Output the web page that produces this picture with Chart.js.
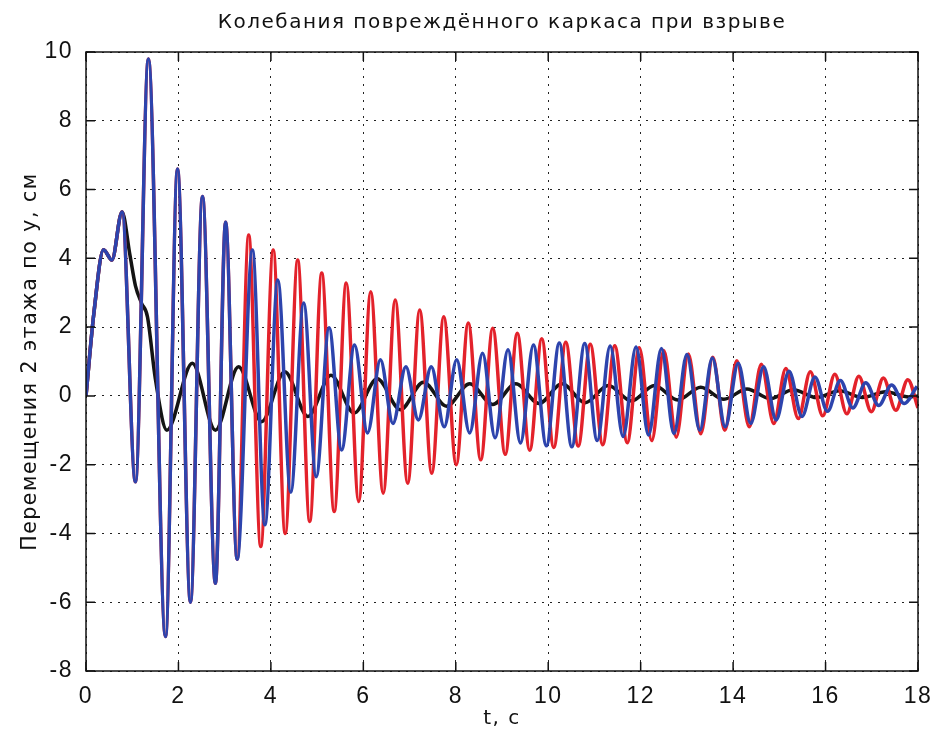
<!doctype html>
<html>
<head>
<meta charset="utf-8">
<script src="https://cdn.jsdelivr.net/npm/chart.js@4.4.0/dist/chart.umd.min.js"></script>
<style>
  html, body { margin: 0; padding: 0; background: #fff; }
</style>
</head>
<body>
<canvas id="chart" width="936" height="735"></canvas>
<script>
// начало общее для красной и синей кривых (пики/впадины, читаны с картинки)
const tStart = [0, 0.17, 0.38, 0.56, 0.78, 1.07, 1.35, 1.72, 1.98, 2.26, 2.52, 2.80, 3.02, 3.27];
const yStart = [0, 2.4, 4.25, 3.95, 5.35, -2.5, 9.8, -7.0, 6.6, -6.0, 5.8, -5.45, 5.05, -4.75];

const tRed = tStart.concat([3.52, 3.78, 4.05, 4.31, 4.58, 4.84, 5.10, 5.37, 5.63, 5.90, 6.16, 6.43, 6.69, 6.96,
  7.22, 7.48, 7.74, 8.01, 8.27, 8.54, 8.80, 9.07, 9.33, 9.60, 9.86, 10.12, 10.38, 10.65, 10.91, 11.18,
  11.44, 11.71, 11.97, 12.24, 12.50, 12.77, 13.03, 13.30, 13.56, 13.82, 14.08, 14.35, 14.61, 14.88,
  15.14, 15.41, 15.67, 15.94, 16.20, 16.46, 16.72, 16.99, 17.25, 17.52, 17.78, 18.0]);
const yRed = yStart.concat([4.68, -4.38, 4.24, -4.0, 3.95, -3.65, 3.57, -3.36, 3.28, -3.07, 3.03, -2.83, 2.79, -2.54,
  2.5, -2.25, 2.3, -2.0, 2.12, -1.86, 1.97, -1.7, 1.82, -1.58, 1.66, -1.5, 1.56, -1.46, 1.5, -1.42,
  1.46, -1.36, 1.4, -1.3, 1.32, -1.2, 1.22, -1.1, 1.12, -1.0, 1.02, -0.9, 0.92, -0.8,
  0.8, -0.66, 0.7, -0.58, 0.63, -0.52, 0.57, -0.46, 0.52, -0.42, 0.47, -0.35]);

const tBlue = tStart.concat([3.60, 3.87, 4.15, 4.43, 4.71, 4.98, 5.26, 5.53, 5.81, 6.09, 6.37, 6.64, 6.92, 7.19,
  7.47, 7.75, 8.02, 8.30, 8.58, 8.85, 9.13, 9.40, 9.68, 9.96, 10.24, 10.51, 10.79, 11.06, 11.34, 11.62,
  11.90, 12.17, 12.45, 12.72, 13.00, 13.28, 13.55, 13.83, 14.11, 14.38, 14.66, 14.93, 15.21, 15.49,
  15.77, 16.04, 16.32, 16.59, 16.87, 17.15, 17.43, 17.70, 17.98]);
const yBlue = yStart.concat([4.24, -3.75, 3.37, -2.8, 2.7, -2.35, 1.98, -1.57, 1.48, -1.08, 1.05, -0.8, 0.85, -0.7,
  0.85, -0.9, 1.05, -1.08, 1.24, -1.22, 1.34, -1.37, 1.48, -1.45, 1.54, -1.48, 1.52, -1.3, 1.45, -1.18,
  1.42, -1.14, 1.38, -1.1, 1.2, -1.0, 1.1, -0.9, 0.95, -0.8, 0.85, -0.7, 0.72, -0.6,
  0.55, -0.45, 0.45, -0.35, 0.38, -0.28, 0.32, -0.22, 0.28]);

const tBlack = [0, 0.17, 0.38, 0.56, 0.78, 0.95, 1.07, 1.2, 1.33, 1.5, 1.75,
  2.3, 2.8, 3.3, 3.8, 4.3, 4.8, 5.3, 5.8, 6.3, 6.8, 7.3, 7.8, 8.3, 8.8, 9.3, 9.8, 10.3, 10.8,
  11.3, 11.8, 12.3, 12.8, 13.3, 13.8, 14.3, 14.8, 15.3, 15.8, 16.3, 16.8, 17.3, 17.8, 18.0];
const yBlack = [0, 2.4, 4.25, 3.95, 5.35, 4.1, 3.2, 2.7, 2.3, 0.5, -1.0,
  0.95, -1.0, 0.85, -0.75, 0.7, -0.6, 0.6, -0.5, 0.5, -0.4, 0.4, -0.3, 0.35, -0.25, 0.35, -0.22, 0.35, -0.2,
  0.3, -0.15, 0.3, -0.12, 0.25, -0.1, 0.2, -0.08, 0.18, -0.05, 0.15, -0.05, 0.12, -0.03, 0.0];

const xTicks = [0, 2, 4, 6, 8, 10, 12, 14, 16, 18];
const yTicks = [-8, -6, -4, -2, 0, 2, 4, 6, 8, 10];

const FONT = "'DejaVu Sans', sans-serif";
const TICKFONT = "'Liberation Sans', Arial, sans-serif";

function points(ts, ys) {
  return ts.map((t, i) => ({ x: t, y: ys[i] }));
}

function line(data, color) {
  return {
    data,
    borderColor: color,
    borderWidth: 3.5,
    pointRadius: 0,
    fill: false,
    cubicInterpolationMode: 'monotone',
    showLine: true
  };
}

// рамка вокруг поля графика и засечки внутрь, как в matlab
const frame = {
  id: 'frame',
  beforeDraw(chart) {
    // шрифт в оригинале разреженный
    chart.ctx.letterSpacing = '1.5px';
  },
  afterDraw(chart) {
    const { ctx, chartArea: a, scales: { x, y } } = chart;
    ctx.save();
    ctx.strokeStyle = '#111';
    ctx.lineWidth = 1.5;
    ctx.strokeRect(a.left, a.top, a.right - a.left, a.bottom - a.top);
    ctx.beginPath();
    x.ticks.forEach(t => {
      const p = x.getPixelForValue(t.value);
      ctx.moveTo(p, a.bottom); ctx.lineTo(p, a.bottom - 9);
      ctx.moveTo(p, a.top); ctx.lineTo(p, a.top + 9);
    });
    y.ticks.forEach(t => {
      const p = y.getPixelForValue(t.value);
      ctx.moveTo(a.left, p); ctx.lineTo(a.left + 9, p);
      ctx.moveTo(a.right, p); ctx.lineTo(a.right - 9, p);
    });
    ctx.stroke();
    ctx.restore();
  }
};

const gridOpts = { color: '#222', lineWidth: 1, drawTicks: false };
const borderOpts = { display: false, dash: [2, 6] };

new Chart(document.getElementById('chart'), {
  type: 'scatter',
  data: {
    datasets: [
      line(points(tBlue, yBlue), '#2d44ad'),
      line(points(tRed, yRed), '#e3222b'),
      line(points(tBlack, yBlack), '#141414')
    ]
  },
  options: {
    responsive: false,
    animation: false,
    events: [],
    layout: { padding: 0 },
    plugins: {
      legend: { display: false },
      tooltip: { enabled: false },
      title: {
        display: true,
        fullSize: false,
        text: 'Колебания повреждённого каркаса при взрыве',
        color: '#111',
        font: { family: FONT, size: 20, weight: 'normal', lineHeight: 1.2 },
        padding: { top: 11, bottom: 17 }
      }
    },
    scales: {
      x: {
        type: 'linear',
        min: 0, max: 18,
        afterBuildTicks: s => { s.ticks = xTicks.map(v => ({ value: v })); },
        afterFit: s => { s.height = 64; s.paddingLeft = 0; s.paddingRight = 18; },
        ticks: { color: '#111', padding: 12, maxRotation: 0, font: { family: TICKFONT, size: 23 } },
        grid: gridOpts,
        border: borderOpts,
        title: {
          display: true, text: 't, c', color: '#111',
          font: { family: FONT, size: 20, lineHeight: 1.2 },
          padding: { top: 0, bottom: 4 }
        }
      },
      y: {
        type: 'linear',
        min: -8, max: 10,
        afterBuildTicks: s => { s.ticks = yTicks.map(v => ({ value: v })); },
        afterFit: s => { s.width = 86; },
        ticks: { color: '#111', padding: 13, font: { family: TICKFONT, size: 23 } },
        grid: gridOpts,
        border: borderOpts,
        title: {
          display: true, text: 'Перемещения 2 этажа по y, см', color: '#111',
          font: { family: FONT, size: 20.5, lineHeight: 1.2 },
          padding: { top: 18, bottom: 0 }
        }
      }
    }
  },
  plugins: [frame]
});
</script>
</body>
</html>
